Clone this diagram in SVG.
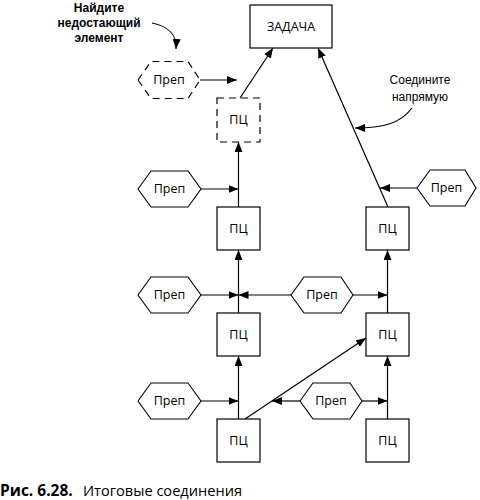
<svg xmlns="http://www.w3.org/2000/svg" width="480" height="500" viewBox="0 0 480 500">
<style>
.box{fill:#fff;stroke:#000;stroke-width:1.2}
.dash{fill:#fff;stroke:#000;stroke-width:1.2;stroke-dasharray:7 5}
.hex{fill:#fff;stroke:#000;stroke-width:1.1}
.t{font-family:"Open Sans","Noto Sans","DejaVu Sans",sans-serif;font-size:12.5px;font-weight:500;text-anchor:middle;fill:#000}
.note{font-family:"Liberation Sans","Arial",sans-serif;font-size:12px;text-anchor:middle;fill:#000}
.c{fill:none;stroke:#000;stroke-width:1.2;marker-end:url(#ah)}
.cap{font-family:"Open Sans","Noto Sans","DejaVu Sans",sans-serif;fill:#000}
</style>
<defs>
<marker id="ah" viewBox="0 0 10 8" refX="10" refY="4" markerWidth="10" markerHeight="8" markerUnits="userSpaceOnUse" orient="auto">
<path d="M0,0 L10,4 L0,8 Z" fill="#000"/>
</marker>
</defs>

<g id="connectors">
<line class="c" x1="200" y1="80" x2="237" y2="80"/>
<line class="c" x1="240" y1="98" x2="273" y2="48"/>
<line class="c" x1="238.5" y1="207" x2="238.5" y2="142"/>
<line class="c" x1="201" y1="189" x2="238.5" y2="189"/>
<line class="c" x1="388" y1="207" x2="318" y2="48"/>
<line class="c" x1="417" y1="188" x2="380" y2="188"/>
<line class="c" x1="238.5" y1="313" x2="238.5" y2="250"/>
<line class="c" x1="201" y1="295" x2="238.5" y2="295"/>
<line class="c" x1="291" y1="295" x2="238.5" y2="295"/>
<line class="c" x1="353" y1="295" x2="387.5" y2="295"/>
<line class="c" x1="387.5" y1="313" x2="387.5" y2="250"/>
<line class="c" x1="238.5" y1="419" x2="238.5" y2="356"/>
<line class="c" x1="201" y1="401" x2="238.5" y2="401"/>
<line class="c" x1="245" y1="419" x2="366" y2="338"/>
<line class="c" x1="300" y1="401" x2="272" y2="401"/>
<line class="c" x1="362" y1="401" x2="387.5" y2="401"/>
<line class="c" x1="387.5" y1="419" x2="387.5" y2="356"/>
<path class="c" d="M152,23 C168,26 177,35 176,49"/>
<path class="c" d="M412,108 C400,124 382,128 355,128"/>
</g>

<g id="task">
<rect class="box" x="250" y="5" width="82" height="43"/>
<text class="t" x="291" y="31">ЗАДАЧА</text>
</g>

<g id="prep-missing">
<polygon class="dash" points="138,80 151,61.5 188,61.5 200,80 188,98.5 151,98.5"/>
<text class="t" x="169" y="84">Преп</text>
</g>
<g id="pc-missing">
<rect class="dash" x="217" y="98" width="43" height="44"/>
<text class="t" x="238.5" y="124">ПЦ</text>
</g>

<g id="pc-l1"><rect class="box" x="217" y="207" width="43" height="43"/><text class="t" x="238.5" y="233">ПЦ</text></g>
<g id="pc-l2"><rect class="box" x="217" y="313" width="43" height="43"/><text class="t" x="238.5" y="339">ПЦ</text></g>
<g id="pc-l3"><rect class="box" x="217" y="419" width="43" height="43"/><text class="t" x="238.5" y="445">ПЦ</text></g>
<g id="pc-r1"><rect class="box" x="366" y="207" width="43" height="43"/><text class="t" x="387.5" y="233">ПЦ</text></g>
<g id="pc-r2"><rect class="box" x="366" y="313" width="43" height="43"/><text class="t" x="387.5" y="339">ПЦ</text></g>
<g id="pc-r3"><rect class="box" x="366" y="419" width="43" height="43"/><text class="t" x="387.5" y="445">ПЦ</text></g>

<g id="prep-l1"><polygon class="hex" points="138,189 151,171 188,171 201,189 188,207 151,207"/><text class="t" x="169.5" y="193">Преп</text></g>
<g id="prep-l2"><polygon class="hex" points="138,295 151,277 188,277 201,295 188,313 151,313"/><text class="t" x="169.5" y="299">Преп</text></g>
<g id="prep-l3"><polygon class="hex" points="138,401 151,383 188,383 201,401 188,419 151,419"/><text class="t" x="169.5" y="405">Преп</text></g>
<g id="prep-m2"><polygon class="hex" points="291,295 304,277 341,277 353,295 341,313 304,313"/><text class="t" x="322" y="299">Преп</text></g>
<g id="prep-m3"><polygon class="hex" points="300,401 313,383 350,383 362,401 350,419 313,419"/><text class="t" x="331" y="405">Преп</text></g>
<g id="prep-r1"><polygon class="hex" points="417,188 430,170 465,170 476,188 465,206 430,206"/><text class="t" x="446.5" y="192">Преп</text></g>

<g id="notes">
<text class="note" x="99" y="12" font-weight="bold">Найдите</text>
<text class="note" x="99" y="27" font-weight="bold">недостающий</text>
<text class="note" x="99" y="42" font-weight="bold">элемент</text>
<text class="note" x="420" y="84">Соедините</text>
<text class="note" x="420" y="101">напрямую</text>
</g>

<g id="caption">
<text class="cap" x="0" y="496" font-size="15.5" font-weight="bold">Рис. 6.28.</text>
<text class="cap" x="83" y="496" font-size="14.6">Итоговые соединения</text>
</g>
</svg>
